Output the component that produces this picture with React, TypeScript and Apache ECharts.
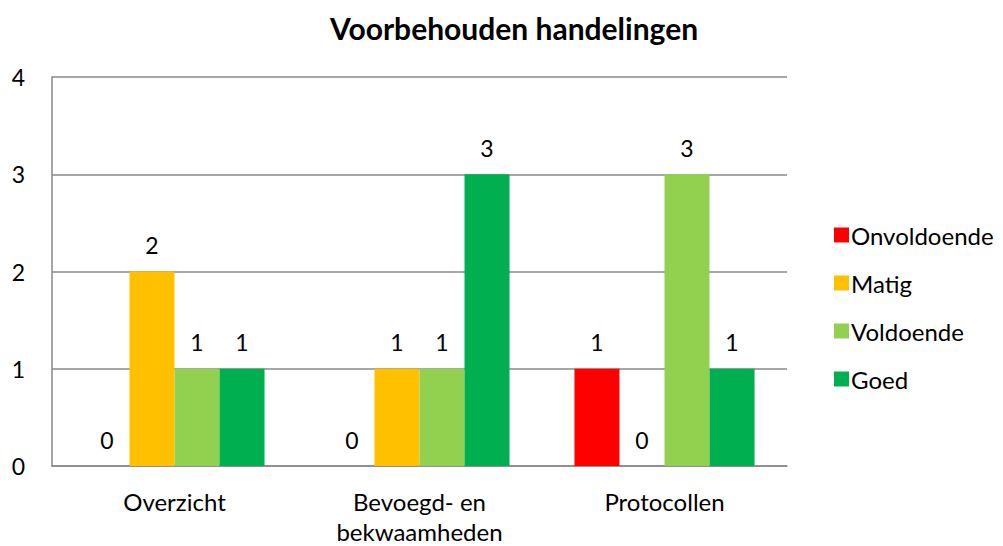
import React, { useEffect, useRef } from "react";
import * as echarts from "echarts";

const categories = ["Overzicht", "Bevoegd- en\nbekwaamheden", "Protocollen"];
const seriesNames = ["Onvoldoende", "Matig", "Voldoende", "Goed"];
const onvoldoende = [0, 0, 1];
const matig = [2, 1, 0];
const voldoende = [1, 1, 3];
const goed = [1, 3, 1];
const colors = ["#FF0000", "#FFC000", "#92D050", "#00B050"];
const yTicks = [0, 1, 2, 3, 4];

const FONT = "Lato, 'Open Sans', sans-serif";

export default function App() {
  const ref = useRef<HTMLDivElement>(null);
  useEffect(() => {
    if (!ref.current) return;
    const chart = echarts.init(ref.current, undefined, { renderer: "svg" });
    const values = [onvoldoende, matig, voldoende, goed];
    chart.setOption({
      animation: false,
      backgroundColor: "#ffffff",
      title: {
        text: "Voorbehouden handelingen",
        left: 325,
        top: 8,
        textStyle: { fontFamily: FONT, fontSize: 30, fontWeight: "bold", color: "#000" },
      },
      legend: {
        orient: "vertical",
        left: 829,
        top: 218,
        itemWidth: 15,
        itemHeight: 15,
        itemGap: 24,
        icon: "rect",
        data: seriesNames,
        textStyle: { fontFamily: FONT, fontSize: 24, color: "#000", padding: [0, 0, 0, -3] },
      },
      grid: { left: 52, right: 216, top: 77, bottom: 77, containLabel: false },
      xAxis: {
        type: "category",
        data: categories,
        axisTick: { show: false },
        axisLine: { lineStyle: { color: "#898989", width: 1.5 } },
        axisLabel: { fontFamily: FONT, fontSize: 24, color: "#000", margin: 20, lineHeight: 30 },
      },
      yAxis: {
        type: "value",
        min: yTicks[0],
        max: yTicks[yTicks.length - 1],
        interval: 1,
        axisLine: { show: true, lineStyle: { color: "#898989", width: 1.5 } },
        axisTick: { show: false },
        splitLine: { lineStyle: { color: "#898989", width: 1.5 } },
        axisLabel: { fontFamily: FONT, fontSize: 23, color: "#000", margin: 27 },
      },
      series: seriesNames.map((name, i) => ({
        name,
        type: "bar",
        data: values[i],
        barGap: "0%",
        barCategoryGap: "26.5%",
        itemStyle: { color: colors[i] },
        label: {
          show: true,
          position: "top",
          distance: 15,
          fontFamily: FONT,
          fontSize: 23,
          color: "#000",
        },
      })),
    });
    return () => chart.dispose();
  }, []);
  return (
    <div
      ref={ref}
      style={{ position: "absolute", left: 0, top: 0, width: 1003, height: 546 }}
    />
  );
}
